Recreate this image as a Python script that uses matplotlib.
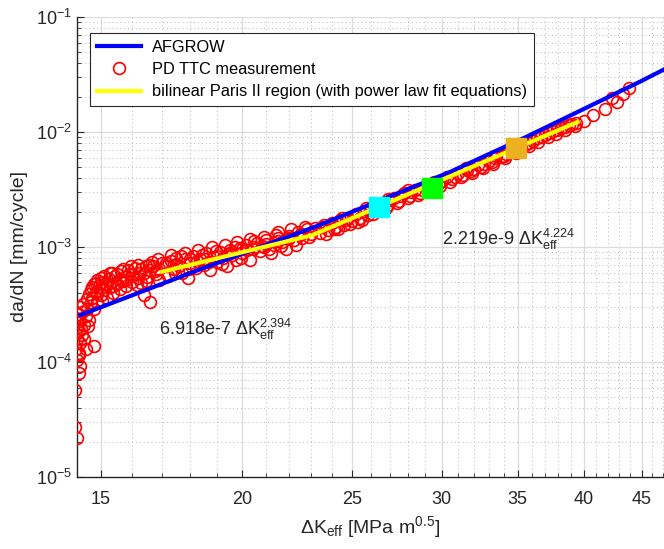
import numpy as np
import matplotlib
matplotlib.use("Agg")
import matplotlib.pyplot as plt
from matplotlib.ticker import FixedLocator, LogLocator, NullFormatter, FixedFormatter

plt.rcParams['font.family'] = ['Liberation Sans', 'DejaVu Sans']
plt.rcParams['mathtext.fontset'] = 'custom'
plt.rcParams['mathtext.rm'] = 'Liberation Sans'
plt.rcParams['mathtext.it'] = 'Liberation Sans:italic'
plt.rcParams['mathtext.bf'] = 'Liberation Sans:bold'

# AFGROW curve
afgrow_dk = [14.4, 18.0, 23.4, 30.5, 35.6, 44.8, 47.5]
afgrow_rate = [2.56e-4, 5.94e-4, 1.55e-3, 4.49e-3, 9.06e-3, 2.72e-2, 3.65e-2]

# bilinear Paris fit: start, knee, end
paris_dk = [17.0, 23.05, 39.5]
paris_rate = [6.1e-4, 1.265e-3, 1.22e-2]

# PD TTC measurement points
pd_dk = [
    14.25, 14.30, 14.25, 14.35, 14.40, 14.30, 14.35, 14.28, 14.40, 14.30,
    14.45, 14.35, 14.30, 14.50, 14.40, 14.30, 14.55, 14.45, 14.60, 14.65,
    14.35, 14.28, 14.42, 14.50, 14.33, 14.38, 14.48, 14.58, 14.62, 14.70,
    14.80, 14.55,
    14.75, 14.80, 14.85, 14.90, 14.95, 15.00, 15.05, 15.10, 15.20, 15.25,
    15.30, 15.40, 15.45, 15.50, 15.60, 15.65, 15.70, 15.80, 15.90, 16.00,
    16.10, 16.20, 16.30, 16.40, 16.50, 16.60, 16.70, 16.80, 16.90, 17.00,
    14.80, 14.90, 15.00, 15.10, 15.20, 15.35, 15.60, 15.75, 15.85, 16.00,
    16.15, 16.30, 16.45, 16.55, 16.75, 16.90, 16.40,
    14.70, 14.85, 15.00, 15.15, 15.30, 15.50, 15.70, 15.95, 16.20, 16.45,
    16.65, 16.85, 15.05, 15.40, 15.80, 16.25, 16.60, 14.65, 14.75, 14.90,
    17.10, 17.20, 17.30, 17.40, 17.50, 17.60, 17.70, 17.80, 17.90, 18.00,
    18.10, 18.20, 18.35, 18.50, 18.60, 18.75, 18.90, 19.00, 19.10, 19.25,
    19.40, 19.50, 19.60, 19.75, 19.90, 20.00, 20.15, 20.30, 20.45, 20.60,
    20.75, 20.90, 21.00, 21.20, 21.35, 21.50, 21.70, 21.85, 22.00, 22.20,
    22.40, 22.60, 22.80, 23.00,
    17.15, 17.45, 17.65, 17.95, 18.25, 18.45, 18.70, 18.95, 19.20, 19.45,
    19.70, 19.95, 20.20, 20.50, 20.80, 21.10, 21.40, 21.65, 21.95, 22.30,
    22.55, 22.90,
    17.30, 17.80, 18.30, 18.80, 19.30, 19.80, 20.30, 20.90, 21.50, 22.10,
    22.70,
    17.50, 18.00, 18.50, 19.00, 19.50, 20.00, 20.50, 21.00, 21.50, 22.00,
    22.50,
    23.20, 23.40, 23.60, 23.80, 24.00, 24.20, 24.40, 24.60, 24.80, 25.00,
    25.20, 25.40, 25.60, 25.80, 26.00, 26.30, 26.60, 26.90, 27.20, 27.50,
    27.80, 28.10, 28.40, 28.70, 29.00, 29.30, 29.60, 30.00, 30.30, 30.60,
    31.00, 31.30, 31.60, 32.00, 32.30, 32.70, 33.00, 33.40, 33.80, 34.20,
    34.60,
    23.50, 24.10, 24.70, 25.30, 25.90, 26.50, 27.00, 27.60, 28.20, 28.80,
    29.80, 30.80, 31.80, 32.50, 33.20, 34.00, 34.80,
    23.70, 24.30, 24.90, 25.50, 26.10, 26.80, 27.40, 28.00, 28.60, 29.20,
    29.90, 30.50, 31.20, 31.90, 32.60, 33.30, 34.10, 34.90, 24.50, 25.70,
    26.90, 28.00, 29.50, 31.50, 33.50,
    35.20, 35.50, 35.80, 36.10, 36.40, 36.70, 37.00, 37.30, 37.60, 37.90,
    38.20, 38.50, 38.80, 39.10, 39.40,
    35.80, 36.50, 37.20, 37.80, 38.50, 39.30,
    40.00, 40.80, 41.80, 42.40, 42.80, 43.30, 43.90,
]
pd_rate = [
    2.7e-5, 2.2e-5, 5.7e-5, 8.0e-5, 9.2e-5, 1.05e-4, 1.2e-4, 1.3e-4, 1.45e-4, 1.6e-4,
    1.7e-4, 1.85e-4, 2.0e-4, 2.1e-4, 2.25e-4, 2.35e-4, 2.5e-4, 2.7e-4, 2.9e-4, 2.3e-4,
    1.15e-4, 1.75e-4, 1.95e-4, 1.6e-4, 2.6e-4, 3.0e-4, 3.2e-4, 3.5e-4, 2.05e-4, 3.3e-4,
    1.38e-4, 1.3e-4,
    3.6e-4, 2.9e-4, 4.1e-4, 3.3e-4, 4.6e-4, 3.8e-4, 5.0e-4, 4.2e-4, 3.6e-4, 5.3e-4,
    4.5e-4, 4.0e-4, 5.6e-4, 4.8e-4, 4.3e-4, 6.2e-4, 5.1e-4, 4.6e-4, 5.8e-4, 5.0e-4,
    6.6e-4, 5.4e-4, 4.9e-4, 6.0e-4, 5.5e-4, 3.3e-4, 6.8e-4, 5.8e-4, 5.2e-4, 7.3e-4,
    4.8e-4, 3.9e-4, 4.4e-4, 5.6e-4, 4.7e-4, 5.9e-4, 5.2e-4, 5.5e-4, 6.3e-4, 5.8e-4,
    4.7e-4, 6.4e-4, 5.1e-4, 7.0e-4, 6.2e-4, 6.5e-4, 3.8e-4,
    4.2e-4, 4.9e-4, 5.4e-4, 4.8e-4, 6.0e-4, 5.8e-4, 6.5e-4, 6.9e-4, 7.0e-4, 6.8e-4,
    7.4e-4, 7.8e-4, 3.4e-4, 4.6e-4, 5.2e-4, 5.9e-4, 6.3e-4, 3.9e-4, 4.5e-4, 5.2e-4,
    6.8e-4, 5.6e-4, 7.6e-4, 6.4e-4, 8.0e-4, 6.9e-4, 5.9e-4, 7.8e-4, 5.4e-4, 7.2e-4,
    8.4e-4, 6.6e-4, 7.9e-4, 7.0e-4, 8.8e-4, 6.3e-4, 8.2e-4, 7.4e-4, 9.1e-4, 8.0e-4,
    6.9e-4, 9.4e-4, 8.5e-4, 7.7e-4, 9.8e-4, 8.9e-4, 1.05e-3, 7.7e-4, 9.6e-4, 1.08e-3,
    9.2e-4, 1.0e-3, 1.15e-3, 8.9e-4, 1.05e-3, 1.2e-3, 1.1e-3, 9.6e-4, 1.25e-3, 1.15e-3,
    1.36e-3, 1.2e-3, 1.42e-3, 1.3e-3,
    7.3e-4, 5.9e-4, 8.3e-4, 6.5e-4, 7.5e-4, 8.6e-4, 7.4e-4, 9.3e-4, 7.1e-4, 8.7e-4,
    1.0e-3, 8.1e-4, 9.4e-4, 1.12e-3, 1.02e-3, 9.7e-4, 1.28e-3, 1.03e-3, 1.18e-3, 1.05e-3,
    1.3e-3, 1.22e-3,
    8.6e-4, 8.9e-4, 9.5e-4, 1.0e-3, 1.04e-3, 1.1e-3, 1.18e-3, 1.23e-3, 1.35e-3, 1.42e-3,
    1.5e-3,
    7.1e-4, 7.9e-4, 7.8e-4, 8.4e-4, 8.9e-4, 9.7e-4, 1.0e-3, 1.07e-3, 1.12e-3, 1.2e-3,
    1.27e-3,
    1.45e-3, 1.33e-3, 1.55e-3, 1.4e-3, 1.62e-3, 1.5e-3, 1.7e-3, 1.55e-3, 1.8e-3, 1.68e-3,
    1.92e-3, 1.78e-3, 2.05e-3, 1.88e-3, 2.2e-3, 2.05e-3, 2.4e-3, 2.3e-3, 2.65e-3, 2.5e-3,
    2.95e-3, 2.75e-3, 3.1e-3, 2.95e-3, 3.3e-3, 3.2e-3, 3.55e-3, 3.75e-3, 4.05e-3, 3.9e-3,
    4.4e-3, 4.25e-3, 4.7e-3, 4.8e-3, 5.2e-3, 5.3e-3, 5.55e-3, 5.9e-3, 6.1e-3, 6.5e-3,
    6.8e-3,
    1.5e-3, 1.42e-3, 1.72e-3, 1.65e-3, 2.1e-3, 2.15e-3, 2.55e-3, 2.8e-3, 3.0e-3, 3.15e-3,
    3.6e-3, 4.1e-3, 4.55e-3, 5.0e-3, 5.45e-3, 6.2e-3, 7.0e-3,
    1.3e-3, 1.42e-3, 1.6e-3, 1.72e-3, 1.95e-3, 2.18e-3, 2.4e-3, 2.65e-3, 2.85e-3, 3.05e-3,
    3.4e-3, 3.7e-3, 4.05e-3, 4.4e-3, 4.85e-3, 5.3e-3, 5.9e-3, 6.6e-3, 1.78e-3, 2.2e-3,
    2.6e-3, 3.1e-3, 3.7e-3, 4.9e-3, 6.2e-3,
    7.5e-3, 7.7e-3, 8.1e-3, 8.3e-3, 8.8e-3, 9.0e-3, 9.5e-3, 9.8e-3, 1.02e-2, 1.05e-2,
    1.08e-2, 1.1e-2, 1.15e-2, 1.17e-2, 1.2e-2,
    7.5e-3, 8.2e-3, 9.0e-3, 9.6e-3, 1.04e-2, 1.12e-2,
    1.25e-2, 1.4e-2, 1.6e-2, 1.97e-2, 1.82e-2, 2.15e-2, 2.4e-2,
]

# highlighted points
sq_dk = [26.4, 29.4, 34.9]
sq_rate = [2.23e-3, 3.26e-3, 7.26e-3]
sq_colors = ['#00FFFF', '#00FF00', '#EDB120']

x_major = [15, 20, 25, 30, 35, 40, 45]
x_minor = [k for k in range(14, 48) if k not in x_major]

fig = plt.figure(figsize=(6.64, 5.49), dpi=100)
ax = fig.add_axes([77 / 664, 72 / 549, 587 / 664, 460 / 549])

ax.plot(pd_dk, pd_rate, 'o', mfc='none', mec='red', ms=8.5, mew=1.2,
        label='PD TTC measurement', zorder=3)
ax.plot(afgrow_dk, afgrow_rate, '-', color='#0000FF', lw=3, label='AFGROW', zorder=4)
ax.plot(paris_dk, paris_rate, '-', color='#FFFF00', lw=3,
        label='bilinear Paris II region (with power law fit equations)', zorder=5)
for k, r, c in zip(sq_dk, sq_rate, sq_colors):
    ax.plot(k, r, 's', color=c, ms=14, zorder=6)

ax.set_xscale('log')
ax.set_yscale('log')
ax.set_xlim(14.3, 47.1)
ax.set_ylim(1e-5, 1e-1)

ax.xaxis.set_major_locator(FixedLocator(x_major))
ax.xaxis.set_major_formatter(FixedFormatter([str(v) for v in x_major]))
ax.xaxis.set_minor_locator(FixedLocator(x_minor))
ax.xaxis.set_minor_formatter(NullFormatter())
ax.yaxis.set_major_locator(LogLocator(base=10, numticks=10))
ax.yaxis.set_minor_locator(LogLocator(base=10, subs=np.arange(2, 10), numticks=20))
ax.yaxis.set_minor_formatter(NullFormatter())

ax.grid(True, which='major', color='#dcdcdc', lw=0.9, ls='-')
ax.grid(True, which='minor', color='#c4c4c4', lw=0.8, ls=(0, (1, 2.5)))
ax.set_axisbelow(True)

for s in ['top', 'right']:
    ax.spines[s].set_visible(False)
for s in ['left', 'bottom']:
    ax.spines[s].set_color('#262626')
    ax.spines[s].set_linewidth(1.0)
ax.tick_params(which='both', direction='in', colors='#262626', labelsize=13)
ax.tick_params(which='major', length=5)
ax.tick_params(which='minor', length=3)
ax.tick_params(axis='x', pad=10)

ax.set_xlabel(r'$\Delta$K$_{\mathrm{eff}}$ [MPa m$^{0.5}$]', fontsize=14, color='#262626')
ax.set_ylabel('da/dN [mm/cycle]', fontsize=14, color='#262626')
ax.xaxis.set_label_coords(0.5, -0.08)
ax.xaxis.label.set_va('top')
ax.yaxis.set_label_coords(-0.083, 0.5)

ax.text(16.9, 1.72e-4, r'6.918e-7 $\Delta$K$_{\mathrm{eff}}^{2.394}$', fontsize=13,
        va='baseline', color='#262626')
ax.text(30.0, 1.04e-3, r'2.219e-9 $\Delta$K$_{\mathrm{eff}}^{4.224}$', fontsize=13,
        va='baseline', color='#262626')

handles, labels = ax.get_legend_handles_labels()
order = [1, 0, 2]
leg = ax.legend([handles[i] for i in order], [labels[i] for i in order],
                loc='upper left', bbox_to_anchor=(13 / 587, 444 / 460),
                borderaxespad=0, fontsize=11.8, handlelength=2.7, handletextpad=0.7,
                fancybox=False, framealpha=1, edgecolor='#262626',
                borderpad=0.4, labelspacing=0.45)
leg.get_frame().set_linewidth(0.8)

fig.savefig('out.png', dpi=100)
